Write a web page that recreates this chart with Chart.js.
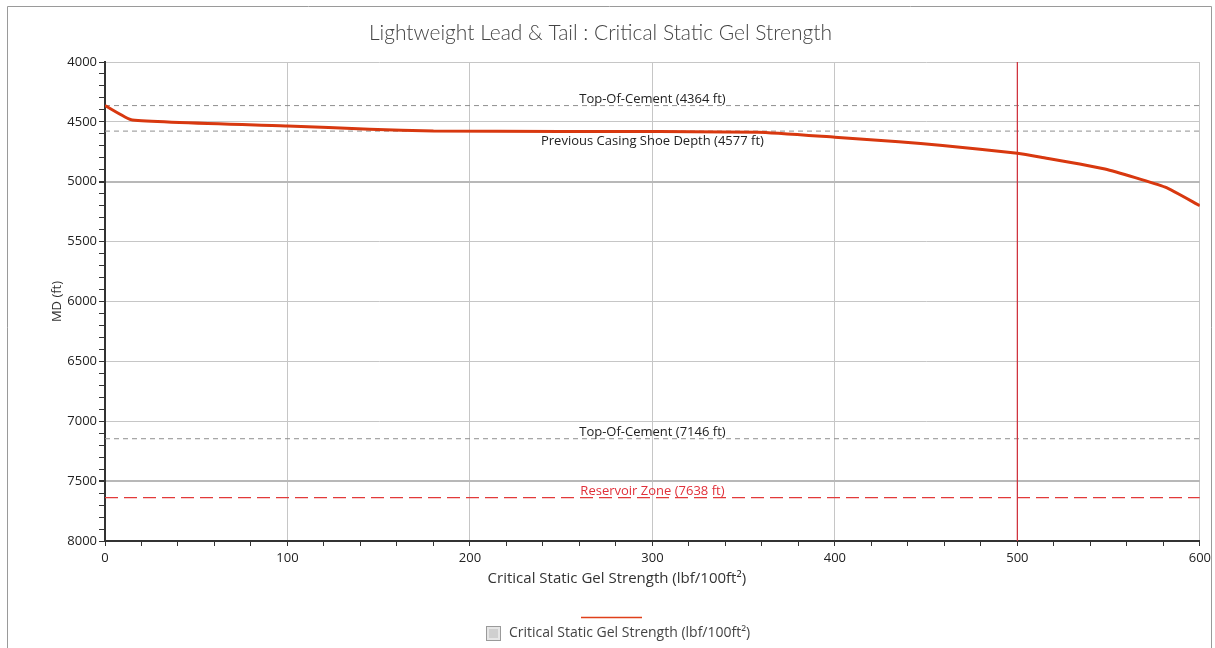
<!DOCTYPE html>
<html>
<head>
<meta charset="utf-8">
<script src="https://cdn.jsdelivr.net/npm/chart.js@4.4.0/dist/chart.umd.min.js"></script>
<style>
  html, body { margin: 0; padding: 0; background: #fff; }
  #wrap { width: 1215px; height: 648px; position: relative; }
</style>
</head>
<body>
<div id="wrap"><canvas id="c" width="1215" height="648"></canvas></div>
<script>
// ---- data ----
const gelStrength = [0, 15, 100, 145, 180, 250, 358, 400, 435, 459, 500, 513, 548, 581, 600];
const mdDepth = [4364, 4485, 4534, 4561, 4577, 4580, 4586, 4628, 4665, 4698, 4762, 4795, 4893, 5045, 5200];

const markerDepths = [4364, 4577, 7146, 7638];
const markerLabels = ['Top-Of-Cement (4364 ft)', 'Previous Casing Shoe Depth (4577 ft)', 'Top-Of-Cement (7146 ft)', 'Reservoir Zone (7638 ft)'];
const markerBelow = [false, true, false, false];
const markerIsReservoir = [false, false, false, true];

const criticalGel = 500;

const xRange = [0, 600];
const yRange = [4000, 8000];

const titleText = 'Lightweight Lead & Tail : Critical Static Gel Strength';
const xTitle = 'Critical Static Gel Strength (lbf/100ft\u00B2)';
const yTitle = 'MD (ft)';
const seriesName = 'Critical Static Gel Strength (lbf/100ft\u00B2)';

// ---- build datasets ----
const mainPoints = gelStrength.map((g, i) => ({ x: g, y: mdDepth[i] }));
const datasets = [];
markerDepths.forEach((d, i) => {
  datasets.push({
    label: markerLabels[i],
    data: [{ x: xRange[0], y: d }, { x: xRange[1], y: d }],
    borderColor: markerIsReservoir[i] ? '#e23a3a' : '#8f8f8f',
    borderWidth: markerIsReservoir[i] ? 1.3 : 1,
    borderDash: markerIsReservoir[i] ? [13, 6] : [5, 4],
    pointRadius: 0,
    order: 3
  });
});
datasets.push({
  label: 'critical',
  data: [{ x: criticalGel, y: yRange[0] }, { x: criticalGel, y: yRange[1] }],
  borderColor: '#d0343f',
  borderWidth: 1.3,
  pointRadius: 0,
  order: 2
});
datasets.push({
  label: seriesName,
  data: mainPoints,
  borderColor: '#d8380f',
  borderWidth: 3,
  pointRadius: 0,
  tension: 0.15,
  order: 1
});

const FONT = "'Open Sans', 'DejaVu Sans', sans-serif";

const framePlugin = {
  id: 'frame',
  beforeDraw(chart) {
    const ctx = chart.ctx;
    ctx.save();
    ctx.fillStyle = '#fff';
    ctx.fillRect(0, 0, chart.width, chart.height);
    ctx.strokeStyle = '#9a9a9a';
    ctx.lineWidth = 1;
    ctx.beginPath();
    ctx.moveTo(7.5, 700);
    ctx.lineTo(7.5, 6.5);
    ctx.lineTo(1211.5, 6.5);
    ctx.lineTo(1211.5, 700);
    ctx.stroke();
    ctx.restore();
  },
  afterDraw(chart) {
    const ctx = chart.ctx;
    const xs = chart.scales.x, ys = chart.scales.y;
    ctx.save();
    ctx.font = "13px " + FONT;
    ctx.textAlign = 'center';
    const cx = xs.getPixelForValue((xRange[0] + xRange[1]) / 2);
    markerDepths.forEach((d, i) => {
      const py = ys.getPixelForValue(d);
      ctx.fillStyle = markerIsReservoir[i] ? '#e0303a' : '#222';
      if (markerBelow[i]) {
        ctx.textBaseline = 'top';
        ctx.fillText(markerLabels[i], cx, py + 4);
      } else {
        ctx.textBaseline = 'bottom';
        ctx.fillText(markerLabels[i], cx, py);
      }
    });
    // x-axis title (sits left of the plot centre in the reference)
    ctx.fillStyle = '#333';
    ctx.font = "15px " + FONT;
    ctx.textAlign = 'center';
    ctx.textBaseline = 'middle';
    ctx.fillText(xTitle, xs.getPixelForValue(280.5), 579);
    // legend
    ctx.strokeStyle = '#e0401a';
    ctx.lineWidth = 1.5;
    ctx.beginPath();
    ctx.moveTo(581, 617.5);
    ctx.lineTo(642, 617.5);
    ctx.stroke();
    ctx.fillStyle = '#e6e6e6';
    ctx.fillRect(486, 626, 14, 14);
    ctx.strokeStyle = '#9a9a9a';
    ctx.lineWidth = 1;
    ctx.strokeRect(486.5, 626.5, 14, 14);
    ctx.fillStyle = '#cfcfcf';
    ctx.fillRect(489, 629, 9, 9);
    ctx.fillStyle = '#444';
    ctx.font = "14px " + FONT;
    ctx.textAlign = 'left';
    ctx.textBaseline = 'middle';
    ctx.fillText(seriesName, 509, 633);
    ctx.restore();
  }
};

new Chart(document.getElementById('c'), {
  type: 'line',
  data: { datasets },
  options: {
    responsive: false,
    animation: false,
    events: [],
    layout: { padding: { left: 0, right: 14, top: 0, bottom: 59 } },
    plugins: {
      legend: { display: false },
      tooltip: { enabled: false },
      title: {
        display: true,
        text: titleText,
        color: '#444',
        font: { family: "Lato, 'Open Sans', sans-serif", size: 21, weight: 300, lineHeight: 1.2 },
        padding: { top: 20.4, bottom: 16.4 }
      }
    },
    scales: {
      x: {
        type: 'linear',
        min: xRange[0], max: xRange[1],
        afterFit(s) { s.height = 48; },
        ticks: {
          stepSize: 20,
          autoSkip: false,
          maxRotation: 0,
          padding: 4,
          color: '#222',
          font: { family: FONT, size: 13 },
          callback: v => (v % 100 === 0 ? String(v) : '')
        },
        grid: {
          color: c => (c.tick && c.tick.value % 100 === 0 ? '#c6c6c6' : 'rgba(0,0,0,0)'),
          tickColor: '#333',
          tickLength: 5,
          drawTicks: true
        },
        border: { display: true, color: '#333', width: 2 },
        title: { display: false, text: xTitle }
      },
      y: {
        type: 'linear',
        reverse: true,
        min: yRange[0], max: yRange[1],
        afterFit(s) { s.width = 105; },
        ticks: {
          stepSize: 100,
          autoSkip: false,
          padding: 2,
          color: '#222',
          font: { family: FONT, size: 13 },
          callback: v => (v % 500 === 0 ? String(v) : '')
        },
        grid: {
          color: c => (c.tick && c.tick.value % 500 === 0 ? ((c.tick.value === 5000 || c.tick.value === 7500) ? '#b8b8b8' : '#c6c6c6') : 'rgba(0,0,0,0)'),
          lineWidth: c => (c.tick && (c.tick.value === 5000 || c.tick.value === 7500) ? 2 : 1),
          tickColor: '#333',
          tickLength: 6,
          drawTicks: true
        },
        border: { display: true, color: '#333', width: 2 },
        title: {
          display: true,
          text: yTitle,
          color: '#333',
          font: { family: FONT, size: 13, lineHeight: 1.2 },
          padding: { top: 49, bottom: 0 }
        }
      }
    }
  },
  plugins: [framePlugin]
});
</script>
</body>
</html>
